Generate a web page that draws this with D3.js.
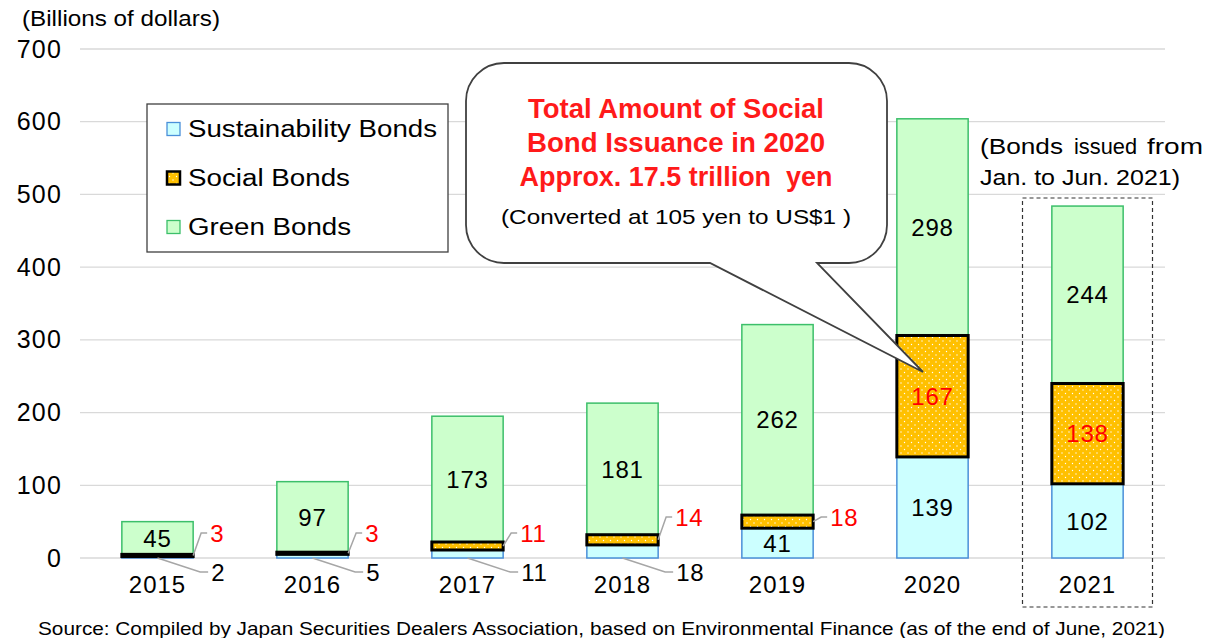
<!DOCTYPE html>
<html>
<head>
<meta charset="utf-8">
<title>Bond issuance</title>
<script src="https://d3js.org/d3.v7.min.js"></script>
<style>
  body { margin: 0; background: #fff; }
  text { font-family: "Liberation Sans", Arial, sans-serif; }
</style>
</head>
<body>
<script>
var width = 1212, height = 638

var years = ["2015", "2016", "2017", "2018", "2019", "2020", "2021"]
var sustainability = [2, 5, 11, 18, 41, 139, 102]
var social = [3, 3, 11, 14, 18, 167, 138]
var green = [45, 97, 173, 181, 262, 298, 244]
var yTicks = [0, 100, 200, 300, 400, 500, 600, 700]
var seriesNames = ["Sustainability Bonds", "Social Bonds", "Green Bonds"]

var rows = years.map(function(y, i) {
  return {year: y, sus: sustainability[i], soc: social[i], grn: green[i]}
})

var svg = d3.select("body").append("svg").attr("width", width).attr("height", height)

var defs = svg.append("defs")
var pat = defs.append("pattern").attr("id", "dots")
  .attr("patternUnits", "userSpaceOnUse").attr("width", 7).attr("height", 7)
pat.append("rect").attr("width", 7).attr("height", 7).attr("fill", "#ffc000")
pat.append("circle").attr("cx", 1.5).attr("cy", 1.5).attr("r", 0.7).attr("fill", "#fff")
pat.append("circle").attr("cx", 5).attr("cy", 5).attr("r", 0.7).attr("fill", "#fff")

var x = d3.scaleBand().domain(years).range([80, 1165]).paddingInner(0.54).paddingOuter(0.27)
var y = d3.scaleLinear().domain([0, 700]).range([558, 49])

// grid
svg.append("g").selectAll("line").data(yTicks).enter().append("line")
  .attr("x1", 80).attr("x2", 1165)
  .attr("y1", function(d) { return y(d) }).attr("y2", function(d) { return y(d) })
  .attr("stroke", "#d9d9d9").attr("stroke-width", 1.3)

// y axis labels
var yAxis = svg.append("g").attr("transform", "translate(62,0)")
  .call(d3.axisLeft(y).tickValues(yTicks).tickSize(0).tickPadding(0))
yAxis.select(".domain").remove()
yAxis.selectAll("text").attr("font-size", 25).attr("fill", "#000").attr("letter-spacing", 1.2)
  .attr("font-family", "Liberation Sans, Arial, sans-serif")

svg.append("text").attr("x", 22).attr("y", 26).attr("font-size", 22)
  .attr("textLength", 198).attr("lengthAdjust", "spacingAndGlyphs").text("(Billions of dollars)")

// x axis labels
var xAxis = svg.append("g").attr("transform", "translate(0,576)")
  .call(d3.axisBottom(x).tickSize(0).tickPadding(0))
xAxis.select(".domain").remove()
xAxis.selectAll("text").attr("font-size", 24).attr("fill", "#000").attr("dy", "0.71em")
  .attr("letter-spacing", 1)
  .attr("font-family", "Liberation Sans, Arial, sans-serif")

// stacked bars
var stack = d3.stack().keys(["sus", "soc", "grn"])
var layers = stack(rows)
var fills = {sus: "#ccffff", soc: "url(#dots)", grn: "#ccffcc"}
var strokes = {sus: "#4a90d9", soc: "#000", grn: "#3cbf6a"}
var strokeW = {sus: 1.5, soc: 3, grn: 1.5}

// draw green and sustainability first, social on top so its border shows
var order = [0, 2, 1]
order.forEach(function(li) {
  var layer = layers[li]
  svg.append("g").selectAll("rect").data(layer).enter().append("rect")
    .attr("x", function(d) { return x(d.data.year) })
    .attr("width", x.bandwidth())
    .attr("y", function(d) { return y(d[1]) })
    .attr("height", function(d) { return y(d[0]) - y(d[1]) })
    .attr("fill", fills[layer.key])
    .attr("stroke", strokes[layer.key])
    .attr("stroke-width", strokeW[layer.key])
})

// labels inside bars
layers.forEach(function(layer) {
  layer.forEach(function(d) {
    var v = d[1] - d[0]
    var h = y(d[0]) - y(d[1])
    if (h < 25) return
    svg.append("text")
      .attr("x", x(d.data.year) + x.bandwidth() / 2)
      .attr("y", (y(d[0]) + y(d[1])) / 2)
      .attr("dy", "0.36em")
      .attr("text-anchor", "middle")
      .attr("font-size", 24).attr("letter-spacing", 0.8)
      .attr("fill", layer.key == "soc" ? "#ff0000" : "#000")
      .text(v)
  })
})

// outside labels with leader lines for small segments
var socTextY = {"2015": 533, "2016": 533, "2017": 533, "2018": 517, "2019": 517}
layers[0].forEach(function(d) {
  var v = d[1] - d[0]
  if (y(d[0]) - y(d[1]) >= 25) return
  var cx = x(d.data.year) + x.bandwidth() / 2
  var r = x(d.data.year) + x.bandwidth()
  svg.append("polyline")
    .attr("points", [[cx, y(0)], [r + 7, 572], [r + 15, 572]].join(" "))
    .attr("fill", "none").attr("stroke", "#a6a6a6").attr("stroke-width", 1.5)
  svg.append("text").attr("x", r + 18).attr("y", 572).attr("dy", "0.36em")
    .attr("font-size", 24).attr("letter-spacing", 0.8).text(v)
})
layers[1].forEach(function(d) {
  var v = d[1] - d[0]
  if (y(d[0]) - y(d[1]) >= 25) return
  var r = x(d.data.year) + x.bandwidth()
  var mid = (y(d[0]) + y(d[1])) / 2
  var ty = socTextY[d.data.year]
  svg.append("polyline")
    .attr("points", [[r, mid], [r + 8, ty], [r + 14, ty]].join(" "))
    .attr("fill", "none").attr("stroke", "#a6a6a6").attr("stroke-width", 1.5)
  svg.append("text").attr("x", r + 17).attr("y", ty).attr("dy", "0.36em")
    .attr("font-size", 24).attr("letter-spacing", 0.8).attr("fill", "#ff0000").text(v)
})

// dashed box around 2021
var x21 = x("2021") + x.bandwidth() / 2
svg.append("rect").attr("x", x21 - 65).attr("y", 198).attr("width", 130).attr("height", 409)
  .attr("fill", "none").attr("stroke", "#333").attr("stroke-width", 1.2).attr("stroke-dasharray", "4,3")
var note = svg.append("text").attr("y", 154).attr("font-size", 22)
note.append("tspan").attr("x", 980).attr("textLength", 83).attr("lengthAdjust", "spacingAndGlyphs").text("(Bonds")
note.append("tspan").attr("x", 1074).attr("textLength", 63).attr("lengthAdjust", "spacingAndGlyphs").text("issued")
note.append("tspan").attr("x", 1147).attr("textLength", 56).attr("lengthAdjust", "spacingAndGlyphs").text("from")
svg.append("text").attr("x", 980).attr("y", 185).attr("font-size", 22).attr("textLength", 200)
  .attr("lengthAdjust", "spacingAndGlyphs").text("Jan. to Jun. 2021)")

// legend
var lg = svg.append("g")
lg.append("rect").attr("x", 147).attr("y", 104).attr("width", 301).attr("height", 148)
  .attr("fill", "#fff").attr("stroke", "#404040").attr("stroke-width", 1.3)
var lkeys = ["sus", "soc", "grn"]
var lwidth = [249, 162, 163]
lkeys.forEach(function(k, i) {
  var cy = 129 + i * 49
  lg.append("rect").attr("x", 167).attr("y", cy - 6.5).attr("width", 13).attr("height", 13)
    .attr("fill", fills[k]).attr("stroke", strokes[k]).attr("stroke-width", k == "soc" ? 2.5 : 1.3)
  lg.append("text").attr("x", 188).attr("y", cy).attr("dy", "0.36em").attr("font-size", 23)
    .attr("textLength", lwidth[i]).attr("lengthAdjust", "spacingAndGlyphs")
    .text(seriesNames[i])
})

// callout
var tip = [923, 372]
var path = d3.path()
var L = 466, T = 63, R = 887, B = 263, rad = 38
path.moveTo(L + rad, T)
path.lineTo(R - rad, T)
path.arcTo(R, T, R, T + rad, rad)
path.lineTo(R, B - rad)
path.arcTo(R, B, R - rad, B, rad)
path.lineTo(817, B)
path.lineTo(tip[0], tip[1])
path.lineTo(710, B)
path.lineTo(L + rad, B)
path.arcTo(L, B, L, B - rad, rad)
path.lineTo(L, T + rad)
path.arcTo(L, T, L + rad, T, rad)
path.closePath()
svg.append("path").attr("d", path.toString()).attr("fill", "#fff")
  .attr("stroke", "#404040").attr("stroke-width", 1.8)

var callLines = ["Total Amount of Social", "Bond Issuance in 2020", "Approx. 17.5 trillion  yen"]
var callW = [296, 298, 313]
callLines.forEach(function(t, i) {
  svg.append("text").attr("x", 676).attr("y", 108 + i * 34).attr("dy", "0.36em")
    .attr("text-anchor", "middle").attr("font-size", 27).attr("font-weight", "bold")
    .attr("textLength", callW[i]).attr("lengthAdjust", "spacingAndGlyphs")
    .attr("fill", "#ff1a1a").attr("xml:space", "preserve").style("white-space", "pre").text(t)
})
svg.append("text").attr("x", 676).attr("y", 216).attr("dy", "0.36em")
  .attr("text-anchor", "middle").attr("font-size", 21).attr("textLength", 350)
  .attr("lengthAdjust", "spacingAndGlyphs").text("(Converted at 105 yen to US$1 )")

// source
svg.append("text").attr("x", 38).attr("y", 628).attr("dy", "0.36em").attr("font-size", 19)
  .attr("textLength", 1127).attr("lengthAdjust", "spacingAndGlyphs")
  .text("Source: Compiled by Japan Securities Dealers Association, based on Environmental  Finance (as of the end of June, 2021)")
</script>
</body>
</html>
